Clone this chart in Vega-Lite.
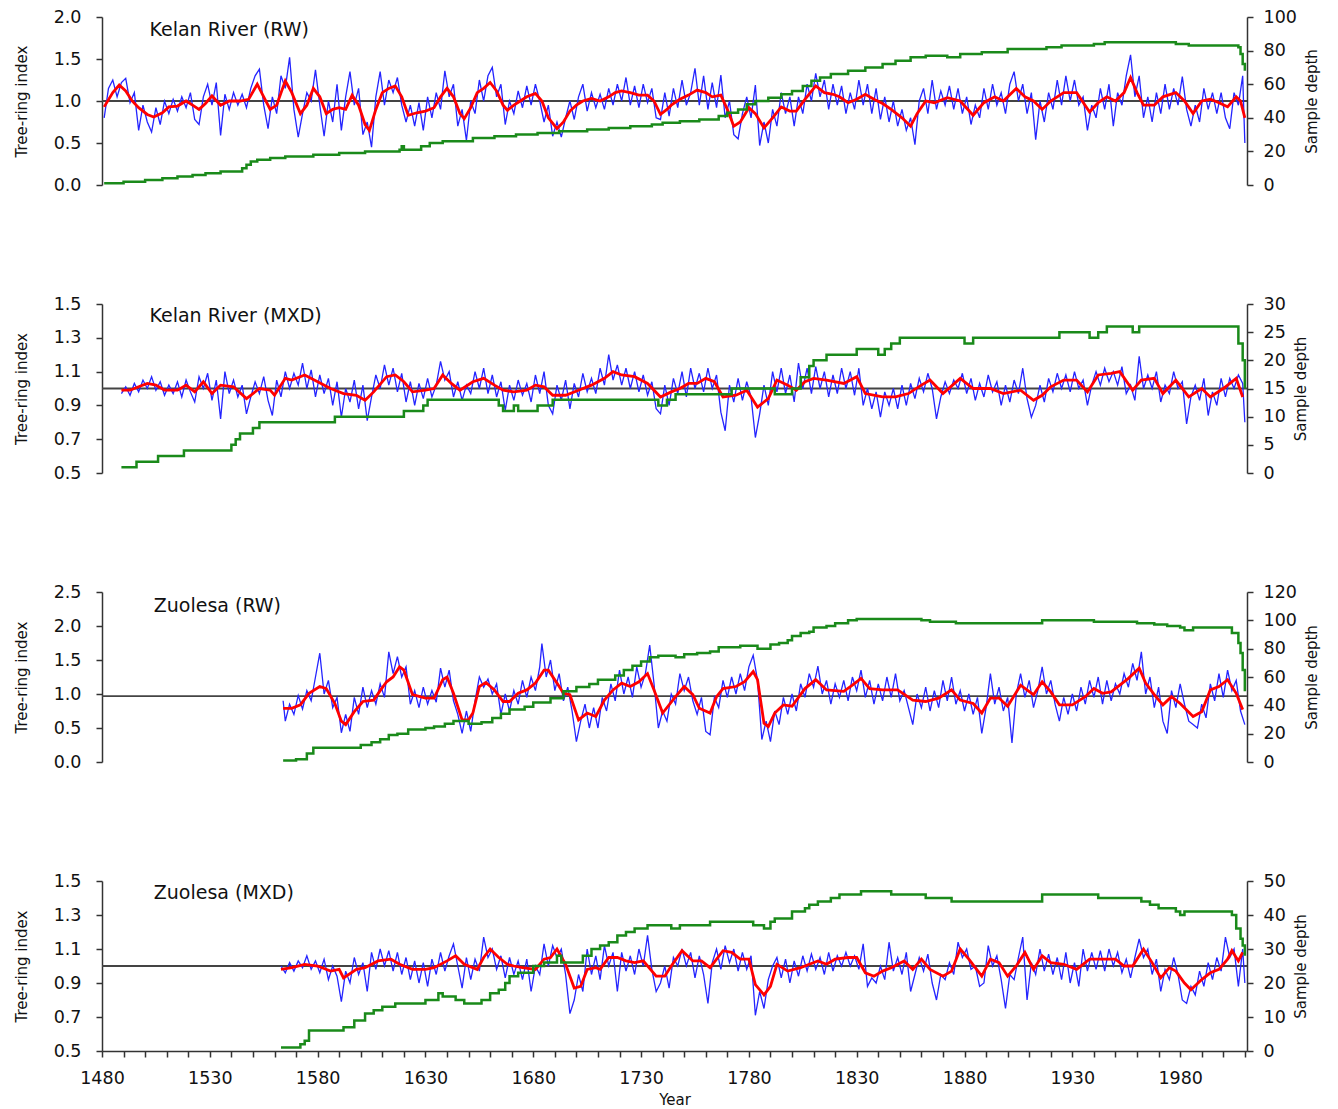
{
"$schema": "https://vega.github.io/schema/vega-lite/v6.json",
"background": "white",
"padding": {"left": 14, "top": 8, "right": 8, "bottom": 4},
"spacing": 119,
"bounds": "flush",
"config": {
  "view": {"stroke": null},
  "font": "DejaVu Sans",
  "axis": {"grid": false, "labelOverlap": false, "domainColor": "#333333", "tickColor": "#333333", "labelColor": "#111111", "titleColor": "#111111", "labelFont": "DejaVu Sans", "titleFont": "DejaVu Sans", "labelFontSize": 17.5, "titleFontSize": 15, "titleFontWeight": "normal", "domainWidth": 1.5, "tickWidth": 1.5, "tickSize": 6}
},
"datasets": {
"p1b": [{"t":1481,"v":0.8},{"t":1483,"v":1.15},{"t":1485,"v":1.25},{"t":1487,"v":1.05},{"t":1489,"v":1.22},{"t":1491,"v":1.27},{"t":1493,"v":0.98},{"t":1495,"v":1.1},{"t":1497,"v":0.65},{"t":1499,"v":0.95},{"t":1501,"v":0.75},{"t":1503,"v":0.63},{"t":1505,"v":0.92},{"t":1507,"v":0.72},{"t":1509,"v":1.0},{"t":1511,"v":0.85},{"t":1513,"v":1.02},{"t":1515,"v":0.88},{"t":1517,"v":1.05},{"t":1519,"v":0.92},{"t":1521,"v":1.1},{"t":1523,"v":0.78},{"t":1525,"v":0.72},{"t":1527,"v":1.05},{"t":1529,"v":1.2},{"t":1531,"v":0.95},{"t":1533,"v":1.22},{"t":1535,"v":0.59},{"t":1537,"v":1.08},{"t":1539,"v":0.9},{"t":1541,"v":1.1},{"t":1543,"v":0.95},{"t":1545,"v":1.08},{"t":1547,"v":0.92},{"t":1549,"v":1.15},{"t":1551,"v":1.3},{"t":1553,"v":1.38},{"t":1555,"v":0.95},{"t":1557,"v":0.67},{"t":1559,"v":1.05},{"t":1561,"v":0.85},{"t":1563,"v":1.3},{"t":1565,"v":1.15},{"t":1567,"v":1.52},{"t":1569,"v":0.9},{"t":1571,"v":0.57},{"t":1573,"v":0.85},{"t":1575,"v":1.1},{"t":1577,"v":1.0},{"t":1579,"v":1.37},{"t":1581,"v":0.95},{"t":1583,"v":0.58},{"t":1585,"v":1.0},{"t":1587,"v":0.75},{"t":1589,"v":1.2},{"t":1591,"v":0.65},{"t":1593,"v":1.05},{"t":1595,"v":1.35},{"t":1597,"v":0.95},{"t":1599,"v":1.15},{"t":1601,"v":0.6},{"t":1603,"v":0.75},{"t":1605,"v":0.45},{"t":1607,"v":1.05},{"t":1609,"v":1.35},{"t":1611,"v":0.95},{"t":1613,"v":1.25},{"t":1615,"v":1.1},{"t":1617,"v":1.28},{"t":1619,"v":0.95},{"t":1621,"v":0.75},{"t":1623,"v":0.95},{"t":1625,"v":0.7},{"t":1627,"v":0.98},{"t":1629,"v":0.65},{"t":1631,"v":1.05},{"t":1633,"v":0.8},{"t":1635,"v":1.1},{"t":1637,"v":0.9},{"t":1639,"v":1.36},{"t":1641,"v":1.05},{"t":1643,"v":1.2},{"t":1645,"v":0.7},{"t":1647,"v":0.9},{"t":1649,"v":0.53},{"t":1651,"v":1.0},{"t":1653,"v":0.85},{"t":1655,"v":1.25},{"t":1657,"v":1.0},{"t":1659,"v":1.3},{"t":1661,"v":1.4},{"t":1663,"v":1.05},{"t":1665,"v":1.2},{"t":1667,"v":0.72},{"t":1669,"v":1.0},{"t":1671,"v":0.85},{"t":1673,"v":1.12},{"t":1675,"v":0.92},{"t":1677,"v":1.18},{"t":1679,"v":0.95},{"t":1681,"v":1.2},{"t":1683,"v":1.0},{"t":1685,"v":0.75},{"t":1687,"v":0.95},{"t":1689,"v":0.58},{"t":1691,"v":0.75},{"t":1693,"v":0.57},{"t":1695,"v":0.8},{"t":1697,"v":1.0},{"t":1699,"v":0.78},{"t":1701,"v":1.05},{"t":1703,"v":1.2},{"t":1705,"v":0.88},{"t":1707,"v":1.1},{"t":1709,"v":0.92},{"t":1711,"v":1.08},{"t":1713,"v":0.9},{"t":1715,"v":1.15},{"t":1717,"v":0.95},{"t":1719,"v":1.2},{"t":1721,"v":1.0},{"t":1723,"v":1.28},{"t":1725,"v":0.95},{"t":1727,"v":1.18},{"t":1729,"v":0.92},{"t":1731,"v":1.2},{"t":1733,"v":0.98},{"t":1735,"v":1.15},{"t":1737,"v":0.8},{"t":1739,"v":0.78},{"t":1741,"v":1.1},{"t":1743,"v":0.82},{"t":1745,"v":1.15},{"t":1747,"v":0.92},{"t":1749,"v":1.25},{"t":1751,"v":0.95},{"t":1753,"v":1.1},{"t":1755,"v":1.39},{"t":1757,"v":0.95},{"t":1759,"v":1.3},{"t":1761,"v":0.9},{"t":1763,"v":1.22},{"t":1765,"v":0.92},{"t":1767,"v":1.31},{"t":1769,"v":0.8},{"t":1771,"v":1.0},{"t":1773,"v":0.6},{"t":1775,"v":0.55},{"t":1777,"v":0.85},{"t":1779,"v":1.05},{"t":1781,"v":0.8},{"t":1783,"v":1.19},{"t":1785,"v":0.47},{"t":1787,"v":0.75},{"t":1789,"v":0.5},{"t":1791,"v":0.9},{"t":1793,"v":0.7},{"t":1795,"v":1.1},{"t":1797,"v":0.85},{"t":1799,"v":1.05},{"t":1801,"v":0.7},{"t":1803,"v":1.05},{"t":1805,"v":0.85},{"t":1807,"v":1.2},{"t":1809,"v":1.0},{"t":1811,"v":1.33},{"t":1813,"v":1.05},{"t":1815,"v":1.25},{"t":1817,"v":0.9},{"t":1819,"v":1.2},{"t":1821,"v":0.95},{"t":1823,"v":1.18},{"t":1825,"v":0.85},{"t":1827,"v":1.1},{"t":1829,"v":0.9},{"t":1831,"v":1.25},{"t":1833,"v":0.95},{"t":1835,"v":1.2},{"t":1837,"v":0.85},{"t":1839,"v":1.15},{"t":1841,"v":0.78},{"t":1843,"v":1.05},{"t":1845,"v":0.75},{"t":1847,"v":1.0},{"t":1849,"v":0.7},{"t":1851,"v":0.9},{"t":1853,"v":0.65},{"t":1855,"v":0.8},{"t":1857,"v":0.48},{"t":1859,"v":1.0},{"t":1861,"v":1.15},{"t":1863,"v":0.85},{"t":1865,"v":1.25},{"t":1867,"v":0.9},{"t":1869,"v":1.12},{"t":1871,"v":0.95},{"t":1873,"v":1.18},{"t":1875,"v":0.9},{"t":1877,"v":1.15},{"t":1879,"v":0.85},{"t":1881,"v":1.05},{"t":1883,"v":0.72},{"t":1885,"v":0.95},{"t":1887,"v":0.8},{"t":1889,"v":1.15},{"t":1891,"v":0.9},{"t":1893,"v":1.2},{"t":1895,"v":0.95},{"t":1897,"v":1.1},{"t":1899,"v":0.85},{"t":1901,"v":1.2},{"t":1903,"v":1.35},{"t":1905,"v":1.0},{"t":1907,"v":1.2},{"t":1909,"v":0.85},{"t":1911,"v":1.1},{"t":1913,"v":0.54},{"t":1915,"v":1.0},{"t":1917,"v":0.75},{"t":1919,"v":1.1},{"t":1921,"v":0.9},{"t":1923,"v":1.25},{"t":1925,"v":0.95},{"t":1927,"v":1.3},{"t":1929,"v":1.0},{"t":1931,"v":1.25},{"t":1933,"v":0.95},{"t":1935,"v":1.05},{"t":1937,"v":0.65},{"t":1939,"v":0.95},{"t":1941,"v":0.8},{"t":1943,"v":1.15},{"t":1945,"v":0.9},{"t":1947,"v":1.2},{"t":1949,"v":0.7},{"t":1951,"v":1.1},{"t":1953,"v":0.95},{"t":1955,"v":1.3},{"t":1957,"v":1.55},{"t":1959,"v":1.05},{"t":1961,"v":1.3},{"t":1963,"v":0.8},{"t":1965,"v":1.05},{"t":1967,"v":0.75},{"t":1969,"v":1.1},{"t":1971,"v":0.85},{"t":1973,"v":1.2},{"t":1975,"v":0.9},{"t":1977,"v":1.15},{"t":1979,"v":0.95},{"t":1981,"v":1.29},{"t":1983,"v":0.9},{"t":1985,"v":0.7},{"t":1987,"v":0.95},{"t":1989,"v":0.75},{"t":1991,"v":1.15},{"t":1993,"v":0.9},{"t":1995,"v":1.1},{"t":1997,"v":0.85},{"t":1999,"v":1.1},{"t":2001,"v":0.8},{"t":2003,"v":0.67},{"t":2005,"v":1.1},{"t":2007,"v":0.95},{"t":2009,"v":1.3},{"t":2010,"v":0.5}],
"p1r": [{"t":1481,"v":0.93},{"t":1485,"v":1.1},{"t":1488,"v":1.19},{"t":1491,"v":1.12},{"t":1494,"v":1.0},{"t":1497,"v":0.92},{"t":1501,"v":0.84},{"t":1504,"v":0.81},{"t":1508,"v":0.86},{"t":1511,"v":0.93},{"t":1515,"v":0.94},{"t":1519,"v":1.0},{"t":1522,"v":0.95},{"t":1525,"v":0.9},{"t":1528,"v":0.97},{"t":1531,"v":1.06},{"t":1535,"v":0.95},{"t":1539,"v":1.0},{"t":1544,"v":1.0},{"t":1548,"v":1.02},{"t":1552,"v":1.2},{"t":1555,"v":1.05},{"t":1558,"v":0.9},{"t":1561,"v":0.95},{"t":1565,"v":1.24},{"t":1568,"v":1.1},{"t":1572,"v":0.85},{"t":1575,"v":0.95},{"t":1578,"v":1.15},{"t":1581,"v":1.05},{"t":1584,"v":0.85},{"t":1587,"v":0.9},{"t":1590,"v":0.92},{"t":1593,"v":0.9},{"t":1596,"v":1.07},{"t":1599,"v":0.95},{"t":1602,"v":0.72},{"t":1604,"v":0.65},{"t":1607,"v":0.9},{"t":1610,"v":1.1},{"t":1613,"v":1.15},{"t":1616,"v":1.18},{"t":1619,"v":1.05},{"t":1622,"v":0.83},{"t":1626,"v":0.86},{"t":1630,"v":0.88},{"t":1634,"v":0.92},{"t":1637,"v":1.05},{"t":1640,"v":1.15},{"t":1643,"v":1.05},{"t":1646,"v":0.85},{"t":1648,"v":0.79},{"t":1651,"v":0.92},{"t":1654,"v":1.1},{"t":1657,"v":1.15},{"t":1660,"v":1.22},{"t":1663,"v":1.12},{"t":1666,"v":0.95},{"t":1668,"v":0.89},{"t":1671,"v":0.95},{"t":1674,"v":1.0},{"t":1677,"v":1.05},{"t":1681,"v":1.09},{"t":1684,"v":1.0},{"t":1687,"v":0.8},{"t":1691,"v":0.67},{"t":1694,"v":0.75},{"t":1697,"v":0.88},{"t":1700,"v":0.95},{"t":1703,"v":1.0},{"t":1707,"v":1.03},{"t":1711,"v":1.0},{"t":1715,"v":1.05},{"t":1718,"v":1.1},{"t":1721,"v":1.12},{"t":1725,"v":1.1},{"t":1729,"v":1.07},{"t":1733,"v":1.07},{"t":1736,"v":1.0},{"t":1739,"v":0.84},{"t":1742,"v":0.9},{"t":1744,"v":0.95},{"t":1748,"v":1.02},{"t":1752,"v":1.07},{"t":1756,"v":1.13},{"t":1760,"v":1.1},{"t":1763,"v":1.05},{"t":1767,"v":1.07},{"t":1770,"v":0.9},{"t":1773,"v":0.7},{"t":1776,"v":0.75},{"t":1780,"v":0.92},{"t":1783,"v":0.85},{"t":1787,"v":0.68},{"t":1791,"v":0.8},{"t":1795,"v":0.93},{"t":1799,"v":0.88},{"t":1802,"v":0.88},{"t":1806,"v":1.02},{"t":1811,"v":1.18},{"t":1815,"v":1.1},{"t":1819,"v":1.08},{"t":1822,"v":1.05},{"t":1826,"v":0.98},{"t":1830,"v":1.02},{"t":1834,"v":1.08},{"t":1838,"v":1.02},{"t":1842,"v":0.97},{"t":1846,"v":0.9},{"t":1851,"v":0.8},{"t":1855,"v":0.7},{"t":1858,"v":0.85},{"t":1862,"v":1.0},{"t":1866,"v":0.98},{"t":1872,"v":1.04},{"t":1878,"v":1.0},{"t":1884,"v":0.83},{"t":1889,"v":0.98},{"t":1894,"v":1.05},{"t":1898,"v":1.0},{"t":1904,"v":1.15},{"t":1908,"v":1.05},{"t":1912,"v":1.0},{"t":1916,"v":0.9},{"t":1920,"v":1.0},{"t":1926,"v":1.1},{"t":1932,"v":1.1},{"t":1938,"v":0.87},{"t":1942,"v":0.98},{"t":1946,"v":1.05},{"t":1950,"v":1.0},{"t":1954,"v":1.1},{"t":1957,"v":1.28},{"t":1960,"v":1.1},{"t":1963,"v":0.95},{"t":1968,"v":0.95},{"t":1972,"v":1.05},{"t":1978,"v":1.1},{"t":1982,"v":1.0},{"t":1986,"v":0.85},{"t":1990,"v":1.0},{"t":1994,"v":1.02},{"t":1998,"v":0.98},{"t":2002,"v":0.93},{"t":2006,"v":1.05},{"t":2008,"v":1.0},{"t":2010,"v":0.8}],
"p1g": [{"t":1481,"d":1},{"t":1490,"d":2},{"t":1500,"d":3},{"t":1508,"d":4},{"t":1515,"d":5},{"t":1522,"d":6},{"t":1528,"d":7},{"t":1535,"d":8},{"t":1545,"d":10},{"t":1547,"d":12},{"t":1549,"d":14},{"t":1552,"d":15},{"t":1558,"d":16},{"t":1565,"d":17},{"t":1578,"d":18},{"t":1590,"d":19},{"t":1602,"d":20},{"t":1618,"d":21},{"t":1619,"d":23},{"t":1620,"d":21},{"t":1628,"d":23},{"t":1632,"d":25},{"t":1638,"d":26},{"t":1652,"d":28},{"t":1662,"d":29},{"t":1672,"d":30},{"t":1682,"d":31},{"t":1692,"d":32},{"t":1705,"d":33},{"t":1715,"d":34},{"t":1725,"d":35},{"t":1735,"d":36},{"t":1740,"d":37},{"t":1748,"d":38},{"t":1757,"d":39},{"t":1766,"d":41},{"t":1770,"d":43},{"t":1775,"d":45},{"t":1779,"d":48},{"t":1783,"d":50},{"t":1789,"d":52},{"t":1795,"d":54},{"t":1800,"d":56},{"t":1805,"d":59},{"t":1809,"d":62},{"t":1813,"d":64},{"t":1818,"d":66},{"t":1826,"d":68},{"t":1834,"d":70},{"t":1842,"d":72},{"t":1848,"d":74},{"t":1855,"d":76},{"t":1862,"d":77},{"t":1872,"d":76},{"t":1878,"d":78},{"t":1888,"d":79},{"t":1900,"d":81},{"t":1918,"d":82},{"t":1925,"d":83},{"t":1940,"d":84},{"t":1945,"d":85},{"t":1978,"d":84},{"t":1984,"d":83},{"t":2007,"d":82},{"t":2008,"d":78},{"t":2009,"d":72},{"t":2010,"d":68}],
"p2b": [{"t":1489,"v":0.97},{"t":1491,"v":1.01},{"t":1493,"v":0.96},{"t":1495,"v":1.03},{"t":1497,"v":0.98},{"t":1499,"v":1.05},{"t":1501,"v":1.0},{"t":1503,"v":1.07},{"t":1505,"v":0.99},{"t":1507,"v":1.04},{"t":1509,"v":0.96},{"t":1511,"v":1.02},{"t":1513,"v":0.97},{"t":1515,"v":1.04},{"t":1517,"v":0.95},{"t":1519,"v":1.05},{"t":1521,"v":0.98},{"t":1523,"v":0.92},{"t":1525,"v":1.07},{"t":1527,"v":1.0},{"t":1529,"v":1.09},{"t":1531,"v":0.93},{"t":1533,"v":1.05},{"t":1535,"v":0.82},{"t":1537,"v":1.1},{"t":1539,"v":0.97},{"t":1541,"v":1.05},{"t":1543,"v":0.95},{"t":1545,"v":1.02},{"t":1547,"v":0.85},{"t":1549,"v":0.95},{"t":1551,"v":1.04},{"t":1553,"v":0.97},{"t":1555,"v":1.07},{"t":1557,"v":0.93},{"t":1559,"v":0.84},{"t":1561,"v":1.05},{"t":1563,"v":0.95},{"t":1565,"v":1.1},{"t":1567,"v":1.0},{"t":1569,"v":1.09},{"t":1571,"v":1.02},{"t":1573,"v":1.15},{"t":1575,"v":1.0},{"t":1577,"v":1.11},{"t":1579,"v":0.95},{"t":1581,"v":1.08},{"t":1583,"v":0.97},{"t":1585,"v":1.06},{"t":1587,"v":0.9},{"t":1589,"v":1.04},{"t":1591,"v":0.83},{"t":1593,"v":1.0},{"t":1595,"v":0.92},{"t":1597,"v":1.05},{"t":1599,"v":0.88},{"t":1601,"v":1.02},{"t":1603,"v":0.81},{"t":1605,"v":0.95},{"t":1607,"v":1.08},{"t":1609,"v":1.0},{"t":1611,"v":1.14},{"t":1613,"v":1.02},{"t":1615,"v":1.12},{"t":1617,"v":0.98},{"t":1619,"v":1.09},{"t":1621,"v":0.92},{"t":1623,"v":1.04},{"t":1625,"v":0.9},{"t":1627,"v":1.03},{"t":1629,"v":0.94},{"t":1631,"v":1.06},{"t":1633,"v":0.95},{"t":1635,"v":1.02},{"t":1637,"v":1.16},{"t":1639,"v":1.05},{"t":1641,"v":1.1},{"t":1643,"v":0.95},{"t":1645,"v":1.04},{"t":1647,"v":0.93},{"t":1649,"v":1.02},{"t":1651,"v":0.97},{"t":1653,"v":1.1},{"t":1655,"v":1.0},{"t":1657,"v":1.12},{"t":1659,"v":0.97},{"t":1661,"v":1.08},{"t":1663,"v":0.95},{"t":1665,"v":1.04},{"t":1667,"v":0.87},{"t":1669,"v":1.02},{"t":1671,"v":0.93},{"t":1673,"v":1.05},{"t":1675,"v":0.96},{"t":1677,"v":1.03},{"t":1679,"v":0.92},{"t":1681,"v":1.08},{"t":1683,"v":0.97},{"t":1685,"v":1.1},{"t":1687,"v":0.9},{"t":1689,"v":0.85},{"t":1691,"v":1.02},{"t":1693,"v":0.93},{"t":1695,"v":1.05},{"t":1697,"v":0.88},{"t":1699,"v":1.03},{"t":1701,"v":0.95},{"t":1703,"v":1.09},{"t":1705,"v":0.98},{"t":1707,"v":1.06},{"t":1709,"v":0.97},{"t":1711,"v":1.12},{"t":1713,"v":1.02},{"t":1715,"v":1.2},{"t":1717,"v":1.05},{"t":1719,"v":1.14},{"t":1721,"v":1.02},{"t":1723,"v":1.12},{"t":1725,"v":1.0},{"t":1727,"v":1.1},{"t":1729,"v":0.98},{"t":1731,"v":1.08},{"t":1733,"v":0.96},{"t":1735,"v":1.04},{"t":1737,"v":0.88},{"t":1739,"v":0.85},{"t":1741,"v":1.02},{"t":1743,"v":0.9},{"t":1745,"v":1.06},{"t":1747,"v":0.97},{"t":1749,"v":1.1},{"t":1751,"v":0.95},{"t":1753,"v":1.12},{"t":1755,"v":1.0},{"t":1757,"v":1.09},{"t":1759,"v":0.98},{"t":1761,"v":1.12},{"t":1763,"v":1.0},{"t":1765,"v":1.08},{"t":1767,"v":0.86},{"t":1769,"v":0.75},{"t":1771,"v":1.02},{"t":1773,"v":0.92},{"t":1775,"v":1.06},{"t":1777,"v":0.93},{"t":1779,"v":1.04},{"t":1781,"v":0.95},{"t":1783,"v":0.71},{"t":1785,"v":0.85},{"t":1787,"v":1.02},{"t":1789,"v":0.9},{"t":1791,"v":1.1},{"t":1793,"v":0.98},{"t":1795,"v":1.12},{"t":1797,"v":0.97},{"t":1799,"v":1.08},{"t":1801,"v":0.92},{"t":1803,"v":1.15},{"t":1805,"v":1.0},{"t":1807,"v":1.12},{"t":1809,"v":0.97},{"t":1811,"v":1.13},{"t":1813,"v":1.0},{"t":1815,"v":1.1},{"t":1817,"v":0.95},{"t":1819,"v":1.08},{"t":1821,"v":0.97},{"t":1823,"v":1.12},{"t":1825,"v":1.0},{"t":1827,"v":1.1},{"t":1829,"v":0.96},{"t":1831,"v":1.12},{"t":1833,"v":0.9},{"t":1835,"v":1.0},{"t":1837,"v":0.88},{"t":1839,"v":0.98},{"t":1841,"v":0.83},{"t":1843,"v":0.98},{"t":1845,"v":0.9},{"t":1847,"v":1.0},{"t":1849,"v":0.88},{"t":1851,"v":1.02},{"t":1853,"v":0.9},{"t":1855,"v":1.03},{"t":1857,"v":0.94},{"t":1859,"v":1.06},{"t":1861,"v":0.98},{"t":1863,"v":1.09},{"t":1865,"v":1.0},{"t":1867,"v":0.82},{"t":1869,"v":0.95},{"t":1871,"v":1.04},{"t":1873,"v":0.97},{"t":1875,"v":1.05},{"t":1877,"v":1.0},{"t":1879,"v":1.09},{"t":1881,"v":0.97},{"t":1883,"v":1.06},{"t":1885,"v":0.93},{"t":1887,"v":1.03},{"t":1889,"v":0.95},{"t":1891,"v":1.08},{"t":1893,"v":0.98},{"t":1895,"v":1.04},{"t":1897,"v":0.9},{"t":1899,"v":1.02},{"t":1901,"v":0.92},{"t":1903,"v":1.05},{"t":1905,"v":0.97},{"t":1907,"v":1.12},{"t":1909,"v":0.94},{"t":1911,"v":0.83},{"t":1913,"v":0.9},{"t":1915,"v":1.02},{"t":1917,"v":0.92},{"t":1919,"v":1.06},{"t":1921,"v":0.98},{"t":1923,"v":1.09},{"t":1925,"v":1.0},{"t":1927,"v":1.08},{"t":1929,"v":0.98},{"t":1931,"v":1.1},{"t":1933,"v":1.0},{"t":1935,"v":1.05},{"t":1937,"v":0.9},{"t":1939,"v":1.02},{"t":1941,"v":1.1},{"t":1943,"v":1.02},{"t":1945,"v":1.12},{"t":1947,"v":1.04},{"t":1949,"v":1.1},{"t":1951,"v":1.02},{"t":1953,"v":1.13},{"t":1955,"v":0.97},{"t":1957,"v":1.02},{"t":1959,"v":0.93},{"t":1961,"v":1.19},{"t":1963,"v":1.0},{"t":1965,"v":1.08},{"t":1967,"v":1.0},{"t":1969,"v":1.1},{"t":1971,"v":0.92},{"t":1973,"v":1.02},{"t":1975,"v":0.97},{"t":1977,"v":1.1},{"t":1979,"v":1.0},{"t":1981,"v":1.04},{"t":1983,"v":0.79},{"t":1985,"v":0.95},{"t":1987,"v":1.02},{"t":1989,"v":0.93},{"t":1991,"v":1.06},{"t":1993,"v":0.84},{"t":1995,"v":0.98},{"t":1997,"v":0.9},{"t":1999,"v":1.06},{"t":2001,"v":0.95},{"t":2003,"v":1.06},{"t":2005,"v":1.0},{"t":2007,"v":1.08},{"t":2009,"v":1.03},{"t":2010,"v":0.8}],
"p2r": [{"t":1489,"v":0.99},{"t":1493,"v":0.99},{"t":1497,"v":1.01},{"t":1501,"v":1.03},{"t":1505,"v":1.02},{"t":1509,"v":0.99},{"t":1515,"v":0.99},{"t":1519,"v":1.02},{"t":1523,"v":0.98},{"t":1527,"v":1.04},{"t":1531,"v":0.97},{"t":1535,"v":1.02},{"t":1541,"v":1.01},{"t":1547,"v":0.94},{"t":1553,"v":1.0},{"t":1558,"v":0.99},{"t":1560,"v":0.96},{"t":1565,"v":1.06},{"t":1568,"v":1.05},{"t":1574,"v":1.08},{"t":1580,"v":1.04},{"t":1586,"v":1.0},{"t":1592,"v":0.97},{"t":1598,"v":0.96},{"t":1602,"v":0.93},{"t":1606,"v":0.98},{"t":1612,"v":1.07},{"t":1616,"v":1.08},{"t":1620,"v":1.04},{"t":1624,"v":0.98},{"t":1630,"v":0.99},{"t":1634,"v":1.0},{"t":1638,"v":1.08},{"t":1642,"v":1.03},{"t":1646,"v":0.99},{"t":1652,"v":1.04},{"t":1657,"v":1.06},{"t":1662,"v":1.02},{"t":1666,"v":0.99},{"t":1671,"v":0.98},{"t":1677,"v":0.99},{"t":1681,"v":1.02},{"t":1685,"v":1.01},{"t":1689,"v":0.96},{"t":1695,"v":0.96},{"t":1701,"v":0.99},{"t":1707,"v":1.02},{"t":1713,"v":1.06},{"t":1717,"v":1.1},{"t":1721,"v":1.08},{"t":1727,"v":1.07},{"t":1733,"v":1.03},{"t":1739,"v":0.95},{"t":1744,"v":0.98},{"t":1748,"v":1.0},{"t":1752,"v":1.03},{"t":1756,"v":1.03},{"t":1760,"v":1.06},{"t":1764,"v":1.04},{"t":1768,"v":0.95},{"t":1774,"v":0.96},{"t":1779,"v":0.99},{"t":1784,"v":0.89},{"t":1789,"v":0.94},{"t":1793,"v":1.05},{"t":1798,"v":1.02},{"t":1802,"v":0.99},{"t":1806,"v":1.04},{"t":1810,"v":1.06},{"t":1816,"v":1.05},{"t":1824,"v":1.03},{"t":1830,"v":1.07},{"t":1834,"v":0.97},{"t":1842,"v":0.95},{"t":1848,"v":0.95},{"t":1854,"v":0.97},{"t":1860,"v":1.02},{"t":1864,"v":1.05},{"t":1870,"v":0.97},{"t":1878,"v":1.06},{"t":1884,"v":1.0},{"t":1892,"v":1.0},{"t":1898,"v":0.97},{"t":1906,"v":0.99},{"t":1912,"v":0.93},{"t":1916,"v":0.96},{"t":1920,"v":1.01},{"t":1926,"v":1.05},{"t":1932,"v":1.05},{"t":1937,"v":0.98},{"t":1942,"v":1.08},{"t":1948,"v":1.09},{"t":1952,"v":1.1},{"t":1958,"v":0.99},{"t":1962,"v":1.05},{"t":1968,"v":1.06},{"t":1972,"v":0.97},{"t":1978,"v":1.05},{"t":1984,"v":0.95},{"t":1990,"v":1.0},{"t":1994,"v":0.95},{"t":2000,"v":1.0},{"t":2006,"v":1.06},{"t":2009,"v":0.95}],
"p2g": [{"t":1489,"d":1},{"t":1496,"d":2},{"t":1506,"d":3},{"t":1518,"d":4},{"t":1540,"d":5},{"t":1542,"d":6},{"t":1544,"d":7},{"t":1550,"d":8},{"t":1553,"d":9},{"t":1588,"d":10},{"t":1620,"d":11},{"t":1629,"d":12},{"t":1631,"d":13},{"t":1664,"d":12},{"t":1666,"d":11},{"t":1671,"d":12},{"t":1673,"d":11},{"t":1682,"d":12},{"t":1689,"d":13},{"t":1738,"d":12},{"t":1742,"d":13},{"t":1746,"d":14},{"t":1772,"d":15},{"t":1792,"d":14},{"t":1800,"d":15},{"t":1804,"d":17},{"t":1808,"d":19},{"t":1810,"d":20},{"t":1816,"d":21},{"t":1830,"d":22},{"t":1840,"d":21},{"t":1843,"d":22},{"t":1846,"d":23},{"t":1850,"d":24},{"t":1880,"d":23},{"t":1884,"d":24},{"t":1924,"d":25},{"t":1938,"d":24},{"t":1942,"d":25},{"t":1946,"d":26},{"t":1958,"d":25},{"t":1961,"d":26},{"t":2007,"d":23},{"t":2009,"d":20},{"t":2010,"d":15}],
"p3b": [{"t":1564,"v":0.9},{"t":1565,"v":0.6},{"t":1567,"v":0.85},{"t":1569,"v":0.7},{"t":1571,"v":0.98},{"t":1573,"v":0.78},{"t":1575,"v":1.05},{"t":1577,"v":0.9},{"t":1579,"v":1.25},{"t":1581,"v":1.6},{"t":1583,"v":1.0},{"t":1585,"v":1.2},{"t":1587,"v":0.8},{"t":1589,"v":0.95},{"t":1591,"v":0.43},{"t":1593,"v":0.7},{"t":1595,"v":0.45},{"t":1597,"v":0.95},{"t":1599,"v":0.7},{"t":1601,"v":1.1},{"t":1603,"v":0.8},{"t":1605,"v":1.05},{"t":1607,"v":0.85},{"t":1609,"v":1.15},{"t":1611,"v":0.95},{"t":1613,"v":1.62},{"t":1615,"v":1.3},{"t":1617,"v":1.55},{"t":1619,"v":1.25},{"t":1621,"v":1.4},{"t":1623,"v":0.85},{"t":1625,"v":1.05},{"t":1627,"v":0.8},{"t":1629,"v":1.1},{"t":1631,"v":0.85},{"t":1633,"v":1.05},{"t":1635,"v":0.88},{"t":1637,"v":1.38},{"t":1639,"v":1.1},{"t":1641,"v":1.35},{"t":1643,"v":0.9},{"t":1645,"v":0.7},{"t":1647,"v":0.42},{"t":1649,"v":0.75},{"t":1651,"v":0.45},{"t":1653,"v":0.9},{"t":1655,"v":1.25},{"t":1657,"v":1.1},{"t":1659,"v":1.22},{"t":1661,"v":1.0},{"t":1663,"v":1.15},{"t":1665,"v":0.7},{"t":1667,"v":1.0},{"t":1669,"v":0.75},{"t":1671,"v":1.05},{"t":1673,"v":0.85},{"t":1675,"v":1.2},{"t":1677,"v":0.95},{"t":1679,"v":1.25},{"t":1681,"v":1.05},{"t":1683,"v":1.4},{"t":1684,"v":1.74},{"t":1686,"v":1.25},{"t":1688,"v":1.5},{"t":1690,"v":1.05},{"t":1692,"v":1.3},{"t":1694,"v":0.9},{"t":1696,"v":1.1},{"t":1698,"v":0.75},{"t":1700,"v":0.3},{"t":1702,"v":0.6},{"t":1704,"v":0.85},{"t":1706,"v":0.5},{"t":1708,"v":0.8},{"t":1710,"v":0.5},{"t":1712,"v":0.95},{"t":1714,"v":0.75},{"t":1716,"v":1.15},{"t":1718,"v":0.9},{"t":1720,"v":1.35},{"t":1722,"v":1.0},{"t":1724,"v":1.25},{"t":1726,"v":0.95},{"t":1728,"v":1.4},{"t":1730,"v":1.1},{"t":1732,"v":1.3},{"t":1734,"v":1.72},{"t":1736,"v":1.15},{"t":1738,"v":0.5},{"t":1740,"v":0.75},{"t":1742,"v":0.6},{"t":1744,"v":1.0},{"t":1746,"v":0.85},{"t":1748,"v":1.3},{"t":1750,"v":1.05},{"t":1752,"v":1.25},{"t":1754,"v":0.9},{"t":1756,"v":0.7},{"t":1758,"v":0.95},{"t":1760,"v":0.45},{"t":1762,"v":0.4},{"t":1764,"v":0.95},{"t":1766,"v":0.8},{"t":1768,"v":1.2},{"t":1770,"v":0.95},{"t":1772,"v":1.25},{"t":1774,"v":1.0},{"t":1776,"v":1.3},{"t":1778,"v":1.05},{"t":1780,"v":1.4},{"t":1782,"v":1.57},{"t":1784,"v":1.2},{"t":1786,"v":0.33},{"t":1788,"v":0.6},{"t":1790,"v":0.3},{"t":1792,"v":0.75},{"t":1794,"v":0.55},{"t":1796,"v":0.95},{"t":1798,"v":0.7},{"t":1800,"v":1.0},{"t":1802,"v":0.75},{"t":1804,"v":1.15},{"t":1806,"v":0.95},{"t":1808,"v":1.3},{"t":1810,"v":1.1},{"t":1812,"v":1.41},{"t":1814,"v":1.0},{"t":1816,"v":1.2},{"t":1818,"v":0.85},{"t":1820,"v":1.15},{"t":1822,"v":0.95},{"t":1824,"v":1.2},{"t":1826,"v":0.9},{"t":1828,"v":1.25},{"t":1830,"v":1.05},{"t":1832,"v":1.35},{"t":1834,"v":0.95},{"t":1836,"v":1.2},{"t":1838,"v":0.85},{"t":1840,"v":1.15},{"t":1842,"v":0.9},{"t":1844,"v":1.25},{"t":1846,"v":0.95},{"t":1848,"v":1.3},{"t":1850,"v":0.9},{"t":1852,"v":1.05},{"t":1854,"v":0.8},{"t":1856,"v":0.55},{"t":1858,"v":1.0},{"t":1860,"v":0.8},{"t":1862,"v":1.1},{"t":1864,"v":0.75},{"t":1866,"v":1.05},{"t":1868,"v":0.8},{"t":1870,"v":1.2},{"t":1872,"v":0.9},{"t":1874,"v":1.25},{"t":1876,"v":0.85},{"t":1878,"v":1.05},{"t":1880,"v":0.75},{"t":1882,"v":1.0},{"t":1884,"v":0.7},{"t":1886,"v":0.95},{"t":1888,"v":0.42},{"t":1890,"v":0.8},{"t":1892,"v":1.3},{"t":1894,"v":0.85},{"t":1896,"v":1.1},{"t":1898,"v":0.75},{"t":1900,"v":0.95},{"t":1902,"v":0.28},{"t":1904,"v":1.0},{"t":1906,"v":1.3},{"t":1908,"v":0.95},{"t":1910,"v":1.2},{"t":1912,"v":0.8},{"t":1914,"v":1.05},{"t":1916,"v":1.4},{"t":1918,"v":1.0},{"t":1920,"v":1.2},{"t":1922,"v":0.85},{"t":1924,"v":0.6},{"t":1926,"v":0.95},{"t":1928,"v":0.7},{"t":1930,"v":1.0},{"t":1932,"v":0.75},{"t":1934,"v":1.1},{"t":1936,"v":0.85},{"t":1938,"v":1.2},{"t":1940,"v":0.95},{"t":1942,"v":1.25},{"t":1944,"v":0.85},{"t":1946,"v":1.2},{"t":1948,"v":0.9},{"t":1950,"v":1.15},{"t":1952,"v":1.0},{"t":1954,"v":1.3},{"t":1956,"v":1.1},{"t":1958,"v":1.45},{"t":1960,"v":1.2},{"t":1962,"v":1.62},{"t":1964,"v":1.0},{"t":1966,"v":1.25},{"t":1968,"v":0.8},{"t":1970,"v":1.1},{"t":1972,"v":0.6},{"t":1974,"v":0.42},{"t":1976,"v":1.05},{"t":1978,"v":0.8},{"t":1980,"v":1.15},{"t":1982,"v":0.85},{"t":1984,"v":0.6},{"t":1986,"v":0.55},{"t":1988,"v":0.5},{"t":1990,"v":0.85},{"t":1992,"v":0.65},{"t":1994,"v":1.15},{"t":1996,"v":0.9},{"t":1998,"v":1.3},{"t":2000,"v":0.95},{"t":2002,"v":1.35},{"t":2004,"v":1.05},{"t":2006,"v":1.2},{"t":2008,"v":0.75},{"t":2010,"v":0.55}],
"p3r": [{"t":1564,"v":0.79},{"t":1568,"v":0.79},{"t":1572,"v":0.84},{"t":1576,"v":1.01},{"t":1581,"v":1.11},{"t":1584,"v":1.08},{"t":1588,"v":0.86},{"t":1591,"v":0.6},{"t":1593,"v":0.55},{"t":1597,"v":0.74},{"t":1601,"v":0.89},{"t":1606,"v":0.91},{"t":1609,"v":1.05},{"t":1612,"v":1.18},{"t":1615,"v":1.25},{"t":1618,"v":1.4},{"t":1620,"v":1.35},{"t":1624,"v":0.99},{"t":1630,"v":0.94},{"t":1634,"v":0.94},{"t":1638,"v":1.21},{"t":1640,"v":1.25},{"t":1643,"v":1.01},{"t":1647,"v":0.62},{"t":1650,"v":0.62},{"t":1652,"v":0.72},{"t":1655,"v":1.11},{"t":1658,"v":1.17},{"t":1662,"v":1.06},{"t":1666,"v":0.89},{"t":1669,"v":0.89},{"t":1673,"v":1.01},{"t":1677,"v":1.06},{"t":1681,"v":1.16},{"t":1685,"v":1.35},{"t":1687,"v":1.35},{"t":1691,"v":1.16},{"t":1694,"v":1.01},{"t":1697,"v":0.99},{"t":1701,"v":0.62},{"t":1705,"v":0.72},{"t":1709,"v":0.67},{"t":1713,"v":0.91},{"t":1717,"v":1.06},{"t":1721,"v":1.16},{"t":1725,"v":1.11},{"t":1729,"v":1.18},{"t":1733,"v":1.3},{"t":1736,"v":1.06},{"t":1740,"v":0.72},{"t":1746,"v":0.96},{"t":1750,"v":1.11},{"t":1754,"v":0.99},{"t":1757,"v":0.79},{"t":1762,"v":0.72},{"t":1765,"v":0.96},{"t":1768,"v":1.08},{"t":1774,"v":1.11},{"t":1778,"v":1.18},{"t":1782,"v":1.33},{"t":1784,"v":1.21},{"t":1787,"v":0.57},{"t":1789,"v":0.52},{"t":1792,"v":0.72},{"t":1796,"v":0.84},{"t":1800,"v":0.82},{"t":1806,"v":1.08},{"t":1811,"v":1.21},{"t":1816,"v":1.06},{"t":1824,"v":1.04},{"t":1828,"v":1.13},{"t":1832,"v":1.23},{"t":1836,"v":1.08},{"t":1842,"v":1.06},{"t":1849,"v":1.06},{"t":1856,"v":0.91},{"t":1862,"v":0.89},{"t":1868,"v":0.94},{"t":1874,"v":1.06},{"t":1878,"v":0.91},{"t":1884,"v":0.86},{"t":1888,"v":0.72},{"t":1892,"v":0.94},{"t":1896,"v":0.94},{"t":1900,"v":0.82},{"t":1906,"v":1.13},{"t":1912,"v":0.99},{"t":1916,"v":1.18},{"t":1920,"v":1.03},{"t":1924,"v":0.84},{"t":1930,"v":0.84},{"t":1936,"v":0.96},{"t":1940,"v":1.08},{"t":1944,"v":1.01},{"t":1948,"v":1.03},{"t":1952,"v":1.13},{"t":1956,"v":1.23},{"t":1961,"v":1.38},{"t":1964,"v":1.16},{"t":1968,"v":0.99},{"t":1972,"v":0.84},{"t":1976,"v":0.96},{"t":1980,"v":0.86},{"t":1986,"v":0.67},{"t":1990,"v":0.74},{"t":1994,"v":1.06},{"t":1998,"v":1.11},{"t":2002,"v":1.21},{"t":2006,"v":1.01},{"t":2009,"v":0.77}],
"p3g": [{"t":1564,"d":1},{"t":1570,"d":2},{"t":1575,"d":6},{"t":1578,"d":10},{"t":1600,"d":12},{"t":1605,"d":14},{"t":1609,"d":16},{"t":1613,"d":19},{"t":1617,"d":20},{"t":1622,"d":23},{"t":1630,"d":24},{"t":1634,"d":25},{"t":1639,"d":27},{"t":1643,"d":29},{"t":1650,"d":27},{"t":1656,"d":28},{"t":1661,"d":31},{"t":1665,"d":34},{"t":1669,"d":37},{"t":1676,"d":39},{"t":1680,"d":42},{"t":1688,"d":45},{"t":1694,"d":50},{"t":1700,"d":53},{"t":1706,"d":55},{"t":1710,"d":58},{"t":1718,"d":61},{"t":1722,"d":65},{"t":1726,"d":68},{"t":1730,"d":71},{"t":1734,"d":74},{"t":1738,"d":75},{"t":1746,"d":74},{"t":1750,"d":76},{"t":1756,"d":77},{"t":1762,"d":78},{"t":1766,"d":81},{"t":1776,"d":82},{"t":1784,"d":80},{"t":1790,"d":83},{"t":1794,"d":84},{"t":1798,"d":86},{"t":1800,"d":89},{"t":1804,"d":91},{"t":1808,"d":92},{"t":1810,"d":95},{"t":1816,"d":96},{"t":1820,"d":98},{"t":1826,"d":100},{"t":1830,"d":101},{"t":1860,"d":100},{"t":1864,"d":99},{"t":1876,"d":98},{"t":1916,"d":100},{"t":1940,"d":99},{"t":1960,"d":98},{"t":1968,"d":97},{"t":1974,"d":96},{"t":1980,"d":95},{"t":1982,"d":93},{"t":1986,"d":95},{"t":2004,"d":91},{"t":2007,"d":84},{"t":2008,"d":77},{"t":2009,"d":65},{"t":2010,"d":50}],
"p4b": [{"t":1563,"v":1.0},{"t":1565,"v":0.96},{"t":1567,"v":1.02},{"t":1569,"v":0.97},{"t":1571,"v":1.03},{"t":1573,"v":0.99},{"t":1575,"v":1.06},{"t":1577,"v":0.98},{"t":1579,"v":1.03},{"t":1581,"v":0.96},{"t":1583,"v":1.04},{"t":1585,"v":0.92},{"t":1587,"v":1.0},{"t":1589,"v":0.94},{"t":1591,"v":0.79},{"t":1593,"v":0.97},{"t":1595,"v":0.9},{"t":1597,"v":1.05},{"t":1599,"v":0.95},{"t":1601,"v":1.02},{"t":1603,"v":0.85},{"t":1605,"v":1.08},{"t":1607,"v":0.98},{"t":1609,"v":1.1},{"t":1611,"v":1.0},{"t":1613,"v":1.09},{"t":1615,"v":0.97},{"t":1617,"v":1.08},{"t":1619,"v":0.95},{"t":1621,"v":1.05},{"t":1623,"v":0.92},{"t":1625,"v":1.03},{"t":1627,"v":0.9},{"t":1629,"v":1.02},{"t":1631,"v":0.88},{"t":1633,"v":1.04},{"t":1635,"v":0.95},{"t":1637,"v":1.08},{"t":1639,"v":0.97},{"t":1641,"v":1.06},{"t":1643,"v":1.13},{"t":1645,"v":1.0},{"t":1647,"v":0.87},{"t":1649,"v":1.05},{"t":1651,"v":0.92},{"t":1653,"v":1.04},{"t":1655,"v":0.97},{"t":1657,"v":1.17},{"t":1659,"v":1.05},{"t":1661,"v":1.1},{"t":1663,"v":0.98},{"t":1665,"v":1.06},{"t":1667,"v":0.93},{"t":1669,"v":1.05},{"t":1671,"v":0.95},{"t":1673,"v":1.03},{"t":1675,"v":0.92},{"t":1677,"v":1.04},{"t":1679,"v":0.85},{"t":1681,"v":1.0},{"t":1683,"v":0.95},{"t":1685,"v":1.13},{"t":1687,"v":1.0},{"t":1689,"v":1.12},{"t":1691,"v":1.05},{"t":1693,"v":1.1},{"t":1695,"v":0.95},{"t":1697,"v":0.72},{"t":1699,"v":0.8},{"t":1701,"v":0.95},{"t":1703,"v":0.85},{"t":1705,"v":1.1},{"t":1707,"v":0.95},{"t":1709,"v":1.06},{"t":1711,"v":0.92},{"t":1713,"v":1.12},{"t":1715,"v":1.0},{"t":1717,"v":1.08},{"t":1719,"v":0.85},{"t":1721,"v":1.08},{"t":1723,"v":0.97},{"t":1725,"v":1.06},{"t":1727,"v":0.95},{"t":1729,"v":1.1},{"t":1731,"v":1.0},{"t":1733,"v":1.18},{"t":1735,"v":0.98},{"t":1737,"v":0.85},{"t":1739,"v":0.9},{"t":1741,"v":1.0},{"t":1743,"v":0.87},{"t":1745,"v":1.05},{"t":1747,"v":1.0},{"t":1749,"v":1.1},{"t":1751,"v":1.0},{"t":1753,"v":1.08},{"t":1755,"v":0.93},{"t":1757,"v":1.06},{"t":1759,"v":0.95},{"t":1761,"v":0.78},{"t":1763,"v":1.02},{"t":1765,"v":1.1},{"t":1767,"v":0.98},{"t":1769,"v":1.12},{"t":1771,"v":1.02},{"t":1773,"v":1.1},{"t":1775,"v":0.97},{"t":1777,"v":1.08},{"t":1779,"v":0.98},{"t":1781,"v":1.06},{"t":1783,"v":0.71},{"t":1785,"v":0.85},{"t":1787,"v":0.75},{"t":1789,"v":0.92},{"t":1791,"v":1.0},{"t":1793,"v":1.05},{"t":1795,"v":0.93},{"t":1797,"v":1.04},{"t":1799,"v":0.9},{"t":1801,"v":1.03},{"t":1803,"v":0.94},{"t":1805,"v":1.06},{"t":1807,"v":0.97},{"t":1809,"v":1.07},{"t":1811,"v":0.98},{"t":1813,"v":1.05},{"t":1815,"v":0.95},{"t":1817,"v":1.08},{"t":1819,"v":0.97},{"t":1821,"v":1.06},{"t":1823,"v":1.0},{"t":1825,"v":1.08},{"t":1827,"v":1.0},{"t":1829,"v":1.06},{"t":1831,"v":0.98},{"t":1833,"v":1.13},{"t":1835,"v":0.88},{"t":1837,"v":0.93},{"t":1839,"v":0.9},{"t":1841,"v":1.0},{"t":1843,"v":0.92},{"t":1845,"v":1.14},{"t":1847,"v":0.97},{"t":1849,"v":1.05},{"t":1851,"v":0.95},{"t":1853,"v":1.08},{"t":1855,"v":0.85},{"t":1857,"v":0.95},{"t":1859,"v":1.05},{"t":1861,"v":0.97},{"t":1863,"v":1.07},{"t":1865,"v":0.9},{"t":1867,"v":0.8},{"t":1869,"v":0.95},{"t":1871,"v":0.92},{"t":1873,"v":1.02},{"t":1875,"v":0.95},{"t":1877,"v":1.14},{"t":1879,"v":1.05},{"t":1881,"v":1.1},{"t":1883,"v":0.98},{"t":1885,"v":1.0},{"t":1887,"v":0.88},{"t":1889,"v":0.9},{"t":1891,"v":1.12},{"t":1893,"v":1.0},{"t":1895,"v":1.06},{"t":1897,"v":0.92},{"t":1899,"v":0.75},{"t":1901,"v":0.95},{"t":1903,"v":0.92},{"t":1905,"v":1.05},{"t":1907,"v":1.17},{"t":1909,"v":0.8},{"t":1911,"v":1.02},{"t":1913,"v":0.95},{"t":1915,"v":1.1},{"t":1917,"v":0.97},{"t":1919,"v":1.07},{"t":1921,"v":0.95},{"t":1923,"v":1.05},{"t":1925,"v":0.92},{"t":1927,"v":1.08},{"t":1929,"v":0.9},{"t":1931,"v":1.02},{"t":1933,"v":0.88},{"t":1935,"v":1.1},{"t":1937,"v":0.97},{"t":1939,"v":1.08},{"t":1941,"v":0.98},{"t":1943,"v":1.09},{"t":1945,"v":0.97},{"t":1947,"v":1.1},{"t":1949,"v":1.0},{"t":1951,"v":1.08},{"t":1953,"v":0.96},{"t":1955,"v":1.04},{"t":1957,"v":0.93},{"t":1959,"v":1.05},{"t":1961,"v":1.16},{"t":1963,"v":1.05},{"t":1965,"v":1.1},{"t":1967,"v":0.95},{"t":1969,"v":1.04},{"t":1971,"v":0.85},{"t":1973,"v":0.98},{"t":1975,"v":0.92},{"t":1977,"v":1.05},{"t":1979,"v":0.95},{"t":1981,"v":0.8},{"t":1983,"v":0.78},{"t":1985,"v":0.88},{"t":1987,"v":0.83},{"t":1989,"v":0.97},{"t":1991,"v":0.88},{"t":1993,"v":1.02},{"t":1995,"v":0.92},{"t":1997,"v":1.05},{"t":1999,"v":0.97},{"t":2001,"v":1.17},{"t":2003,"v":1.05},{"t":2005,"v":1.1},{"t":2007,"v":0.88},{"t":2009,"v":1.1},{"t":2010,"v":0.9}],
"p4r": [{"t":1563,"v":0.98},{"t":1568,"v":0.99},{"t":1574,"v":1.01},{"t":1580,"v":1.0},{"t":1586,"v":0.97},{"t":1590,"v":0.98},{"t":1592,"v":0.93},{"t":1598,"v":0.98},{"t":1602,"v":0.99},{"t":1608,"v":1.03},{"t":1614,"v":1.04},{"t":1618,"v":1.01},{"t":1624,"v":0.98},{"t":1630,"v":0.98},{"t":1634,"v":0.99},{"t":1640,"v":1.03},{"t":1644,"v":1.06},{"t":1648,"v":1.01},{"t":1654,"v":0.98},{"t":1657,"v":1.05},{"t":1660,"v":1.1},{"t":1664,"v":1.05},{"t":1668,"v":1.01},{"t":1671,"v":1.0},{"t":1675,"v":0.99},{"t":1681,"v":0.98},{"t":1685,"v":1.04},{"t":1688,"v":1.05},{"t":1691,"v":1.1},{"t":1695,"v":1.01},{"t":1699,"v":0.87},{"t":1702,"v":0.88},{"t":1705,"v":0.98},{"t":1709,"v":0.99},{"t":1711,"v":0.98},{"t":1715,"v":1.05},{"t":1719,"v":1.05},{"t":1723,"v":1.03},{"t":1727,"v":1.02},{"t":1731,"v":1.03},{"t":1737,"v":0.94},{"t":1741,"v":0.94},{"t":1744,"v":1.0},{"t":1749,"v":1.09},{"t":1754,"v":1.03},{"t":1758,"v":1.03},{"t":1762,"v":0.99},{"t":1768,"v":1.09},{"t":1772,"v":1.08},{"t":1776,"v":1.04},{"t":1780,"v":1.04},{"t":1783,"v":0.89},{"t":1787,"v":0.83},{"t":1790,"v":0.88},{"t":1793,"v":1.01},{"t":1798,"v":0.97},{"t":1804,"v":0.99},{"t":1808,"v":1.01},{"t":1812,"v":1.03},{"t":1816,"v":1.01},{"t":1820,"v":1.04},{"t":1826,"v":1.05},{"t":1830,"v":1.05},{"t":1834,"v":0.96},{"t":1838,"v":0.94},{"t":1842,"v":0.97},{"t":1846,"v":0.99},{"t":1852,"v":1.03},{"t":1856,"v":0.98},{"t":1860,"v":1.04},{"t":1864,"v":0.98},{"t":1870,"v":0.94},{"t":1874,"v":0.97},{"t":1878,"v":1.1},{"t":1882,"v":1.04},{"t":1888,"v":0.94},{"t":1892,"v":1.04},{"t":1896,"v":1.02},{"t":1900,"v":0.94},{"t":1904,"v":1.0},{"t":1908,"v":1.08},{"t":1912,"v":0.98},{"t":1916,"v":1.06},{"t":1920,"v":1.02},{"t":1926,"v":1.01},{"t":1932,"v":0.98},{"t":1938,"v":1.04},{"t":1944,"v":1.04},{"t":1950,"v":1.04},{"t":1954,"v":1.0},{"t":1958,"v":1.0},{"t":1963,"v":1.1},{"t":1967,"v":1.02},{"t":1971,"v":0.93},{"t":1975,"v":0.99},{"t":1978,"v":0.97},{"t":1982,"v":0.9},{"t":1985,"v":0.86},{"t":1990,"v":0.92},{"t":1994,"v":0.96},{"t":1998,"v":0.98},{"t":2002,"v":1.04},{"t":2004,"v":1.09},{"t":2007,"v":1.03},{"t":2009,"v":1.08}],
"p4g": [{"t":1563,"d":1},{"t":1572,"d":2},{"t":1574,"d":3},{"t":1576,"d":6},{"t":1592,"d":7},{"t":1597,"d":9},{"t":1602,"d":11},{"t":1606,"d":12},{"t":1610,"d":13},{"t":1616,"d":14},{"t":1630,"d":15},{"t":1636,"d":17},{"t":1638,"d":16},{"t":1644,"d":15},{"t":1648,"d":14},{"t":1656,"d":15},{"t":1660,"d":17},{"t":1664,"d":18},{"t":1667,"d":20},{"t":1669,"d":22},{"t":1673,"d":23},{"t":1680,"d":25},{"t":1685,"d":26},{"t":1691,"d":28},{"t":1693,"d":26},{"t":1703,"d":28},{"t":1707,"d":30},{"t":1711,"d":31},{"t":1715,"d":32},{"t":1719,"d":34},{"t":1723,"d":35},{"t":1727,"d":36},{"t":1733,"d":37},{"t":1744,"d":36},{"t":1748,"d":37},{"t":1762,"d":38},{"t":1782,"d":37},{"t":1787,"d":36},{"t":1790,"d":38},{"t":1792,"d":39},{"t":1800,"d":41},{"t":1806,"d":42},{"t":1808,"d":43},{"t":1812,"d":44},{"t":1818,"d":45},{"t":1822,"d":46},{"t":1832,"d":47},{"t":1846,"d":46},{"t":1862,"d":45},{"t":1874,"d":44},{"t":1916,"d":46},{"t":1942,"d":45},{"t":1962,"d":44},{"t":1966,"d":43},{"t":1970,"d":42},{"t":1978,"d":41},{"t":1980,"d":40},{"t":1982,"d":41},{"t":2004,"d":40},{"t":2006,"d":36},{"t":2008,"d":33},{"t":2009,"d":31},{"t":2010,"d":28}]
},
"vconcat": [
{
 "width": 1145, "height": 168,
 "resolve": {"scale": {"y": "independent"}},
 "layer": [
  {"layer": [
   {"data": {"values": [{"v": 1.0}]}, "mark": {"type": "rule", "color": "#444444", "strokeWidth": 1.8}, "encoding": {"y": {"field": "v", "type": "quantitative", "scale": {"domain": [0, 2], "nice": false, "zero": false}, "axis": {"values": [0, 0.5, 1, 1.5, 2], "tickCount": 20, "format": ".1f", "title": "Tree-ring index", "labelOverlap": false, "labelPadding": 15, "titlePadding": 24}}}},
   {"data": {"name": "p1b"}, "mark": {"type": "line", "color": "#2424ff", "strokeWidth": 1.3}, "encoding": {"x": {"field": "t", "type": "quantitative", "scale": {"domain": [1480, 2011], "nice": false, "zero": false}, "axis": null}, "y": {"field": "v", "type": "quantitative"}}},
   {"data": {"name": "p1r"}, "mark": {"type": "line", "color": "#ff0000", "strokeWidth": 2.8}, "encoding": {"x": {"field": "t", "type": "quantitative"}, "y": {"field": "v", "type": "quantitative"}}},
   {"data": {"values": [{"t": 1502, "v": 1.84, "s": "Kelan River (RW)"}]}, "mark": {"type": "text", "align": "left", "baseline": "middle", "fontSize": 19, "color": "#111111"}, "encoding": {"x": {"field": "t", "type": "quantitative"}, "y": {"field": "v", "type": "quantitative"}, "text": {"field": "s"}}}
  ]},
  {"data": {"name": "p1g"}, "mark": {"type": "line", "interpolate": "step-after", "color": "#1a8a1a", "strokeWidth": 2.5}, "encoding": {"x": {"field": "t", "type": "quantitative"}, "y": {"field": "d", "type": "quantitative", "scale": {"domain": [0, 100], "nice": false}, "axis": {"orient": "right", "values": [0, 20, 40, 60, 80, 100], "tickCount": 20, "title": "Sample depth", "labelOverlap": false, "titleAngle": -90, "titleBaseline": "top", "labelPadding": 10, "titlePadding": 8}}}}
 ]
},
{
 "width": 1145, "height": 169,
 "resolve": {"scale": {"y": "independent"}},
 "layer": [
  {"layer": [
   {"data": {"values": [{"v": 1.0}]}, "mark": {"type": "rule", "color": "#444444", "strokeWidth": 1.8}, "encoding": {"y": {"field": "v", "type": "quantitative", "scale": {"domain": [0.5, 1.5], "nice": false, "zero": false}, "axis": {"values": [0.5, 0.7, 0.9, 1.1, 1.3, 1.5], "tickCount": 20, "format": ".1f", "title": "Tree-ring index", "labelOverlap": false, "labelPadding": 15, "titlePadding": 24}}}},
   {"data": {"name": "p2b"}, "mark": {"type": "line", "color": "#2424ff", "strokeWidth": 1.3}, "encoding": {"x": {"field": "t", "type": "quantitative", "scale": {"domain": [1480, 2011], "nice": false, "zero": false}, "axis": null}, "y": {"field": "v", "type": "quantitative"}}},
   {"data": {"name": "p2r"}, "mark": {"type": "line", "color": "#ff0000", "strokeWidth": 2.8}, "encoding": {"x": {"field": "t", "type": "quantitative"}, "y": {"field": "v", "type": "quantitative"}}},
   {"data": {"values": [{"t": 1502, "v": 1.43, "s": "Kelan River (MXD)"}]}, "mark": {"type": "text", "align": "left", "baseline": "middle", "fontSize": 19, "color": "#111111"}, "encoding": {"x": {"field": "t", "type": "quantitative"}, "y": {"field": "v", "type": "quantitative"}, "text": {"field": "s"}}}
  ]},
  {"data": {"name": "p2g"}, "mark": {"type": "line", "interpolate": "step-after", "color": "#1a8a1a", "strokeWidth": 2.5}, "encoding": {"x": {"field": "t", "type": "quantitative"}, "y": {"field": "d", "type": "quantitative", "scale": {"domain": [0, 30], "nice": false}, "axis": {"orient": "right", "values": [0, 5, 10, 15, 20, 25, 30], "tickCount": 20, "title": "Sample depth", "labelOverlap": false, "titleAngle": -90, "titleBaseline": "top", "labelPadding": 10, "titlePadding": 8}}}}
 ]
},
{
 "width": 1145, "height": 170,
 "resolve": {"scale": {"y": "independent"}},
 "layer": [
  {"layer": [
   {"data": {"values": [{"v": 0.97}]}, "mark": {"type": "rule", "color": "#444444", "strokeWidth": 1.8}, "encoding": {"y": {"field": "v", "type": "quantitative", "scale": {"domain": [0, 2.5], "nice": false, "zero": false}, "axis": {"values": [0, 0.5, 1, 1.5, 2, 2.5], "tickCount": 20, "format": ".1f", "title": "Tree-ring index", "labelOverlap": false, "labelPadding": 15, "titlePadding": 24}}}},
   {"data": {"name": "p3b"}, "mark": {"type": "line", "color": "#2424ff", "strokeWidth": 1.3}, "encoding": {"x": {"field": "t", "type": "quantitative", "scale": {"domain": [1480, 2011], "nice": false, "zero": false}, "axis": null}, "y": {"field": "v", "type": "quantitative"}}},
   {"data": {"name": "p3r"}, "mark": {"type": "line", "color": "#ff0000", "strokeWidth": 2.8}, "encoding": {"x": {"field": "t", "type": "quantitative"}, "y": {"field": "v", "type": "quantitative"}}},
   {"data": {"values": [{"t": 1504, "v": 2.3, "s": "Zuolesa (RW)"}]}, "mark": {"type": "text", "align": "left", "baseline": "middle", "fontSize": 19, "color": "#111111"}, "encoding": {"x": {"field": "t", "type": "quantitative"}, "y": {"field": "v", "type": "quantitative"}, "text": {"field": "s"}}}
  ]},
  {"data": {"name": "p3g"}, "mark": {"type": "line", "interpolate": "step-after", "color": "#1a8a1a", "strokeWidth": 2.5}, "encoding": {"x": {"field": "t", "type": "quantitative"}, "y": {"field": "d", "type": "quantitative", "scale": {"domain": [0, 120], "nice": false}, "axis": {"orient": "right", "values": [0, 20, 40, 60, 80, 100, 120], "tickCount": 20, "title": "Sample depth", "labelOverlap": false, "titleAngle": -90, "titleBaseline": "top", "labelPadding": 10, "titlePadding": 8}}}}
 ]
},
{
 "width": 1145, "height": 170,
 "resolve": {"scale": {"y": "independent"}},
 "layer": [
  {"layer": [
   {"data": {"values": [{"v": 1.0}]}, "mark": {"type": "rule", "color": "#444444", "strokeWidth": 1.8}, "encoding": {"y": {"field": "v", "type": "quantitative", "scale": {"domain": [0.5, 1.5], "nice": false, "zero": false}, "axis": {"values": [0.5, 0.7, 0.9, 1.1, 1.3, 1.5], "tickCount": 20, "format": ".1f", "title": "Tree-ring index", "labelOverlap": false, "labelPadding": 15, "titlePadding": 24}}}},
   {"data": {"name": "p4b"}, "mark": {"type": "line", "color": "#2424ff", "strokeWidth": 1.3}, "encoding": {"x": {"field": "t", "type": "quantitative", "scale": {"domain": [1480, 2011], "nice": false, "zero": false}, "axis": {"values": [1480,1490,1500,1510,1520,1530,1540,1550,1560,1570,1580,1590,1600,1610,1620,1630,1640,1650,1660,1670,1680,1690,1700,1710,1720,1730,1740,1750,1760,1770,1780,1790,1800,1810,1820,1830,1840,1850,1860,1870,1880,1890,1900,1910,1920,1930,1940,1950,1960,1970,1980,1990,2000,2010], "tickCount": 100, "format": "d", "labelExpr": "(datum.value - 1480) % 50 === 0 ? datum.label : ''", "labelOverlap": false, "labelFlush": false, "labelPadding": 12, "title": "Year", "titlePadding": 6}}, "y": {"field": "v", "type": "quantitative"}}},
   {"data": {"name": "p4r"}, "mark": {"type": "line", "color": "#ff0000", "strokeWidth": 2.8}, "encoding": {"x": {"field": "t", "type": "quantitative"}, "y": {"field": "v", "type": "quantitative"}}},
   {"data": {"values": [{"t": 1504, "v": 1.43, "s": "Zuolesa (MXD)"}]}, "mark": {"type": "text", "align": "left", "baseline": "middle", "fontSize": 19, "color": "#111111"}, "encoding": {"x": {"field": "t", "type": "quantitative"}, "y": {"field": "v", "type": "quantitative"}, "text": {"field": "s"}}}
  ]},
  {"data": {"name": "p4g"}, "mark": {"type": "line", "interpolate": "step-after", "color": "#1a8a1a", "strokeWidth": 2.5}, "encoding": {"x": {"field": "t", "type": "quantitative"}, "y": {"field": "d", "type": "quantitative", "scale": {"domain": [0, 50], "nice": false}, "axis": {"orient": "right", "values": [0, 10, 20, 30, 40, 50], "tickCount": 20, "title": "Sample depth", "labelOverlap": false, "titleAngle": -90, "titleBaseline": "top", "labelPadding": 10, "titlePadding": 8}}}}
 ]
}
]
}
